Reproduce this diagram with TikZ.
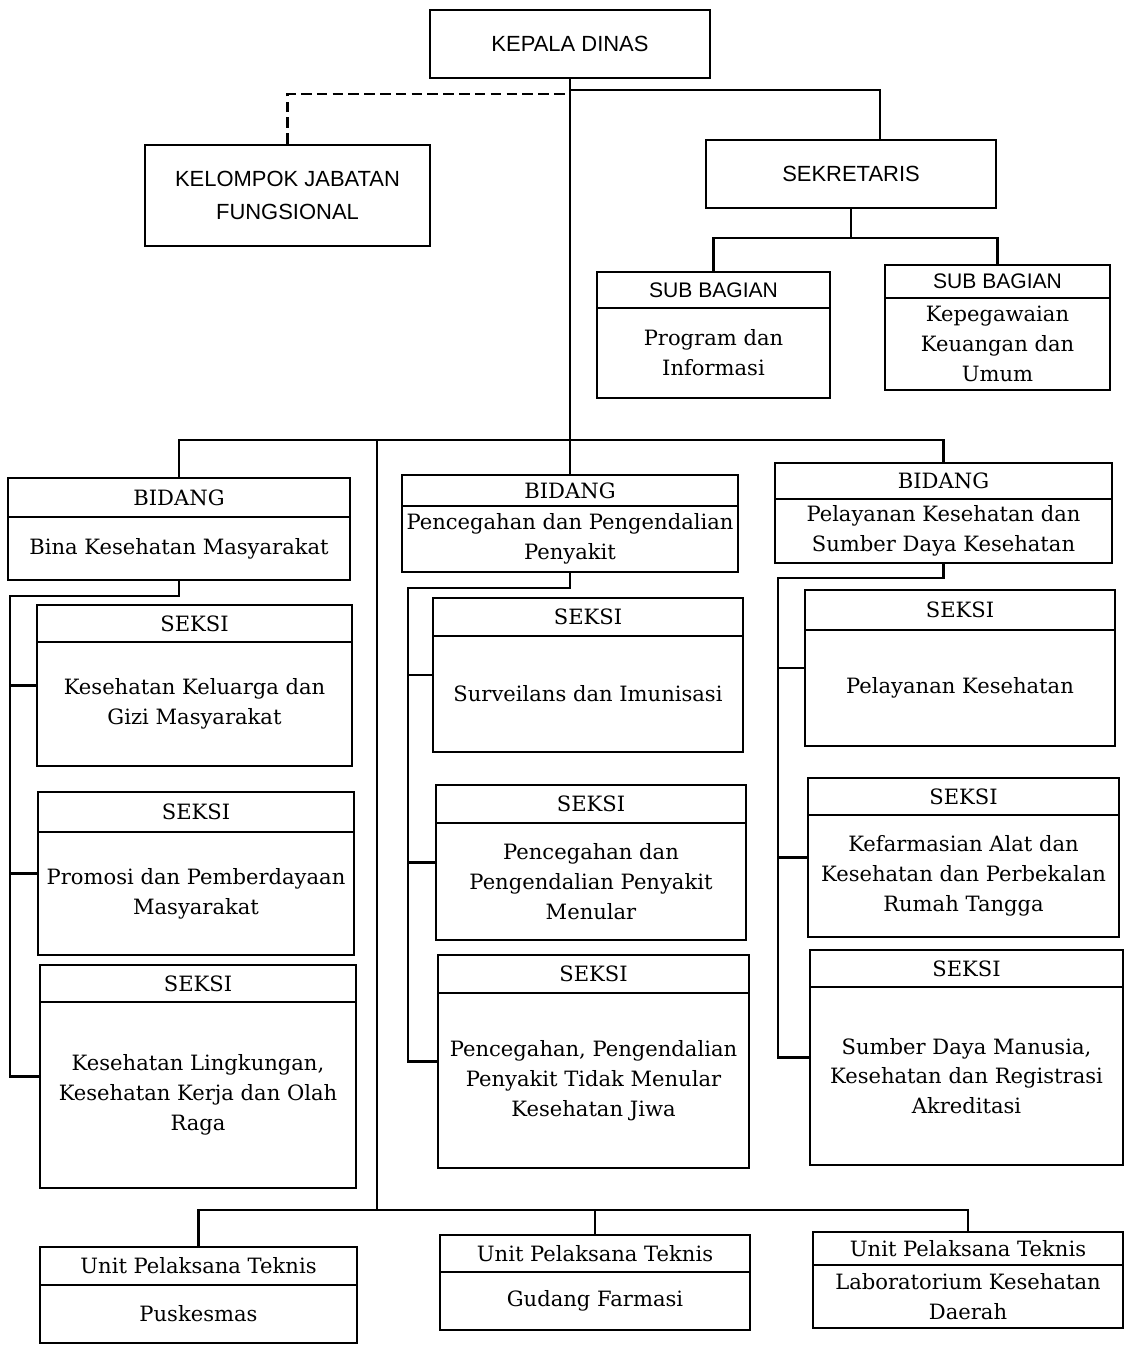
\documentclass[tikz,border=0pt]{standalone}
\usepackage{fontspec}
\setmainfont{DejaVu Serif}
\setsansfont{Liberation Sans}

% box with a title strip: name, x1, y1, x2, y2, y of the strip line, title, text
\newcommand{\unitbox}[8]{%
  \node[frame,minimum width={(#4-#2)*0.02cm},minimum height={(#5-#3)*0.02cm}] (#1) at ({(#2+#4)/2},{(#3+#5)/2}) {};
  \draw (#2,#6) -- (#4,#6);
  \node[head] (#1-h) at ({(#2+#4)/2},{(#3+#6)/2}) {#7};
  \node[txt] (#1-b) at ({(#2+#4)/2},{(#6+#5)/2}) {#8};
}
% plain box: name, x1, y1, x2, y2, text
\newcommand{\plainbox}[6]{%
  \node[frame,caps,minimum width={(#4-#2)*0.02cm},minimum height={(#5-#3)*0.02cm}] (#1) at ({(#2+#4)/2},{(#3+#5)/2}) {#6};
}

\begin{document}
\begin{tikzpicture}[x=0.02cm,y=-0.02cm,line width=1.4pt,
  frame/.style={draw,rectangle,inner sep=0pt,align=center},
  head/.style={font=\fontsize{12}{15}\selectfont},
  txt/.style={align=center,font=\fontsize{12}{17}\selectfont},
  caps/.style={font=\sffamily\fontsize{12.5}{19}\selectfont},
  staff/.style={dash pattern=on 6pt off 3pt}]
\useasboundingbox (0,0) rectangle (1125,1348);

% top level
\plainbox{kepala}{430}{10}{710}{78}{KEPALA DINAS}
\plainbox{kjf}{145}{145}{430}{246}{KELOMPOK JABATAN\\FUNGSIONAL}
\plainbox{sek}{706}{140}{996}{208}{SEKRETARIS}
\unitbox{sb1}{597}{272}{830}{398}{308}{\sffamily SUB BAGIAN}{Program dan\\Informasi}
\unitbox{sb2}{885}{265}{1110}{390}{298}{\sffamily SUB BAGIAN}{Kepegawaian\\Keuangan dan\\Umum}

% bidang
\unitbox{bd1}{8}{478}{350}{580}{517}{BIDANG}{Bina Kesehatan Masyarakat}
\unitbox{bd2}{402}{475}{738}{572}{506}{BIDANG}{Pencegahan dan Pengendalian\\Penyakit}
\unitbox{bd3}{775}{463}{1112}{563}{499}{BIDANG}{Pelayanan Kesehatan dan\\Sumber Daya Kesehatan}

% seksi
\unitbox{sk11}{37}{605}{352}{766}{642}{SEKSI}{Kesehatan Keluarga dan\\Gizi Masyarakat}
\unitbox{sk12}{38}{792}{354}{955}{832}{SEKSI}{Promosi dan Pemberdayaan\\Masyarakat}
\unitbox{sk13}{40}{965}{356}{1188}{1002}{SEKSI}{Kesehatan Lingkungan,\\Kesehatan Kerja dan Olah\\Raga}
\unitbox{sk21}{433}{598}{743}{752}{636}{SEKSI}{Surveilans dan Imunisasi}
\unitbox{sk22}{436}{785}{746}{940}{823}{SEKSI}{Pencegahan dan\\Pengendalian Penyakit\\Menular}
\unitbox{sk23}{438}{955}{749}{1168}{993}{SEKSI}{Pencegahan, Pengendalian\\Penyakit Tidak Menular\\Kesehatan Jiwa}
\unitbox{sk31}{805}{590}{1115}{746}{630}{SEKSI}{Pelayanan Kesehatan}
\unitbox{sk32}{808}{778}{1119}{937}{815}{SEKSI}{Kefarmasian Alat dan\\Kesehatan dan Perbekalan\\Rumah Tangga}
\unitbox{sk33}{810}{950}{1123}{1165}{987}{SEKSI}{Sumber Daya Manusia,\\Kesehatan dan Registrasi\\Akreditasi}

% unit pelaksana teknis
\unitbox{upt1}{40}{1247}{357}{1343}{1285}{Unit Pelaksana Teknis}{Puskesmas}
\unitbox{upt2}{440}{1235}{750}{1330}{1272}{Unit Pelaksana Teknis}{Gudang Farmasi}
\unitbox{upt3}{813}{1232}{1123}{1328}{1265}{Unit Pelaksana Teknis}{Laboratorium Kesehatan\\Daerah}

% lines
\coordinate (topbar) at (0,94);
\coordinate (sekdrop) at (880,90);
\coordinate (sbbar) at (851,238);
\coordinate (bidbar) at (0,440);
\coordinate (uptdrop) at (377,440);
\coordinate (uptbar) at (0,1210);
\coordinate (rail1) at (10,596);
\coordinate (rail2) at (408,588);
\coordinate (rail3) at (778,578);

\draw[staff] (kjf.north) |- (kepala.south |- topbar);
\draw (kepala.south |- sekdrop) -- (sekdrop) -- (sekdrop |- sek.north);
\draw (sek.south) -- (sbbar);
\draw (sb1.north) |- (sbbar) -| (sb2.north);
\draw (kepala.south) -- (kepala.south |- bidbar) -- (bd2.north);
\draw (bd1.north) |- (bd3.north |- bidbar) -- (bd3.north);
\draw (uptdrop) -- (uptdrop |- uptbar);
\draw (upt1.north) |- (upt3.north |- uptbar) -- (upt3.north);
\draw (upt2.north) -- (upt2.north |- uptbar);

\draw (bd1.south) |- (rail1) |- (sk13.west);
\draw (rail1 |- sk11.west) -- (sk11.west);
\draw (rail1 |- sk12.west) -- (sk12.west);
\draw (bd2.south) |- (rail2) |- (sk23.west);
\draw (rail2 |- sk21.west) -- (sk21.west);
\draw (rail2 |- sk22.west) -- (sk22.west);
\draw (bd3.south) |- (rail3) |- (sk33.west);
\draw (rail3 |- sk31.west) -- (sk31.west);
\draw (rail3 |- sk32.west) -- (sk32.west);
\end{tikzpicture}
\end{document}
